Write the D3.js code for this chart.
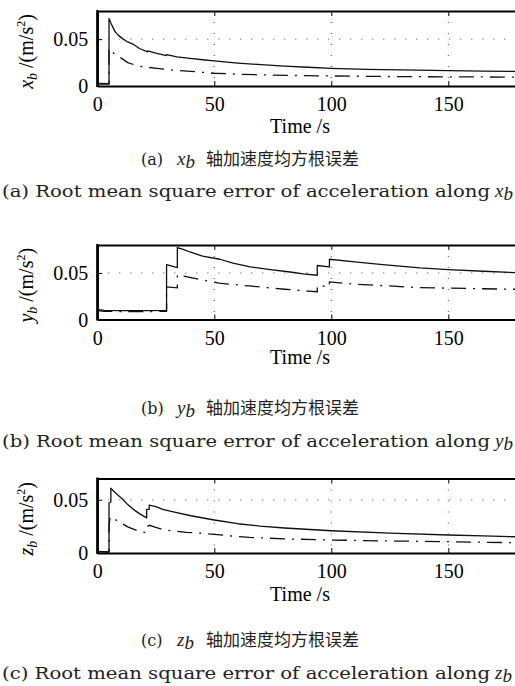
<!DOCTYPE html>
<html>
<head>
<meta charset="utf-8">
<script src="https://cdn.jsdelivr.net/npm/d3@7/dist/d3.min.js"></script>
<style>
  body { margin: 0; background: #fff; }
  svg { display: block; }
  .tick text { font-family: "Liberation Serif", serif; font-size: 20px; fill: #000; }
  .lbl { font-family: "Liberation Serif", serif; font-size: 20px; fill: #000; }
  .cap { font-family: "DejaVu Serif", serif; font-size: 16px; fill: #222; }
  .capm { font-family: "Liberation Serif", serif; font-size: 19px; font-style: italic; fill: #222; }
  .capzh { font-family: "Noto Sans CJK SC", sans-serif; font-size: 17px; fill: #222; }
</style>
</head>
<body>
<svg id="chart" width="515" height="686"></svg>
<script>
// shared axis values
const timeDomain = [0, 180]
const timeTicks = [0, 50, 100, 150]
const valueTicks = [0, 0.05]

// panel a: x_b axis  [time s, rmse m/s^2]
const xbSolid = [[0,0.0028],[5.0,0.0025],[5.0,0.072],[6,0.066],[7.6,0.058],[9,0.054],[11.1,0.050],[13,0.047],[15.4,0.0445],[18,0.040],[21.5,0.0365],[21.6,0.0375],[25,0.035],[29.5,0.0325],[29.6,0.0335],[34,0.031],[39.6,0.0295],[45,0.028],[50,0.0267],[60,0.0245],[70,0.0228],[80,0.0213],[90,0.020],[100,0.0189],[115,0.0178],[130,0.0171],[150,0.0163],[165,0.0159],[180,0.0155]]
const xbDashDot = [[0,0.002],[5.0,0.002],[5.0,0.040],[6,0.037],[8,0.033],[10.4,0.0295],[13,0.025],[16,0.0225],[19,0.0206],[22,0.0198],[25.5,0.0189],[30,0.0175],[35,0.0165],[40,0.0157],[45,0.0146],[50,0.0136],[60,0.0126],[70,0.0119],[85,0.0112],[100,0.0107],[120,0.0102],[140,0.0099],[160,0.0097],[180,0.0095]]

// panel b: y_b axis
const ybSolid = [[0,0.0115],[1,0.0105],[3,0.0098],[10,0.0095],[20,0.0095],[29.6,0.0097],[29.6,0.059],[34.2,0.0558],[34.2,0.0773],[37,0.075],[39.6,0.0725],[45,0.068],[52.4,0.0647],[58,0.0605],[65.3,0.0565],[74,0.0535],[82.4,0.051],[88,0.049],[94,0.0475],[94,0.058],[99.2,0.0565],[99.2,0.0647],[110,0.0618],[122,0.059],[137.9,0.0555],[150,0.0536],[165,0.0518],[180,0.0502]]
const ybDashDot = [[0,0.0095],[3,0.0088],[10,0.0085],[20,0.0085],[29.6,0.0087],[29.6,0.035],[34.2,0.034],[34.2,0.048],[40,0.045],[48,0.041],[52,0.039],[65,0.036],[80,0.0325],[90,0.0305],[94,0.0298],[94,0.036],[99.2,0.0355],[99.2,0.0403],[110.8,0.0378],[125,0.036],[137,0.0343],[150,0.0337],[165,0.033],[180,0.0324]]

// panel c: z_b axis
const zbSolid = [[0,0.0015],[5.0,0.001],[5.0,0.047],[5.8,0.048],[5.8,0.061],[7,0.058],[9,0.054],[11.1,0.050],[13,0.0455],[15.4,0.041],[18,0.037],[21.1,0.033],[21.1,0.041],[22.2,0.041],[22.2,0.045],[25,0.0435],[28,0.041],[32.5,0.0387],[40,0.035],[50,0.031],[60,0.0275],[69.5,0.0253],[80,0.0235],[100,0.0209],[125,0.0186],[150,0.0169],[165,0.016],[180,0.0152]]
const zbDashDot = [[0,0.001],[5.0,0.0008],[5.0,0.026],[5.5,0.034],[6,0.033],[8,0.031],[9.7,0.0288],[13,0.0245],[17,0.021],[20.8,0.019],[21,0.021],[21.5,0.025],[22.2,0.026],[25,0.024],[28.7,0.0216],[32.5,0.0206],[38,0.0194],[45,0.0185],[50,0.0175],[60,0.0155],[65,0.0147],[80,0.0133],[100,0.0122],[125,0.0113],[150,0.0106],[165,0.0101],[180,0.0097]]

const panels = [
	{ id: "a", v: "x", solid: xbSolid, dashdot: xbDashDot, ymax: 0.08, top: 11, bottom: 86,
	  timeY: 133, zhY: 165, enY: 197 },
	{ id: "b", v: "y", solid: ybSolid, dashdot: ybDashDot, ymax: 0.08, top: 245, bottom: 319.5,
	  timeY: 364, zhY: 414, enY: 447 },
	{ id: "c", v: "z", solid: zbSolid, dashdot: zbDashDot, ymax: 0.07, top: 478.5, bottom: 553,
	  timeY: 601, zhY: 646, enY: 679 }
]

const svg = d3.select("#chart")
const left = 97.3, right = 518.5

const x = d3.scaleLinear().domain(timeDomain).range([left, right])

panels.forEach(function(p, i) {
	const y = d3.scaleLinear().domain([0, p.ymax]).range([p.bottom, p.top])
	const g = svg.append("g").attr("class", "panel-" + p.id)

	g.append("clipPath").attr("id", "clip" + i)
		.append("rect").attr("x", left).attr("y", p.top).attr("width", right - left).attr("height", p.bottom - p.top)

	// dotted grid
	g.selectAll("line.vgrid").data(timeTicks.slice(1)).join("line")
		.attr("class", "vgrid")
		.attr("x1", d => x(d)).attr("x2", d => x(d))
		.attr("y1", p.top).attr("y2", p.bottom)
		.attr("stroke", "#444").attr("stroke-width", 1).attr("stroke-dasharray", "1,10")
	g.selectAll("line.hgrid").data(valueTicks.slice(1)).join("line")
		.attr("class", "hgrid")
		.attr("x1", left).attr("x2", right)
		.attr("y1", d => y(d)).attr("y2", d => y(d))
		.attr("stroke", "#444").attr("stroke-width", 1).attr("stroke-dasharray", "1,10")

	const line = d3.line().x(d => x(d[0])).y(d => y(d[1]))

	g.append("path").datum(p.dashdot)
		.attr("d", line).attr("fill", "none").attr("stroke", "#111")
		.attr("stroke-width", 1.3).attr("stroke-dasharray", "15,7,2,7")
		.attr("clip-path", "url(#clip" + i + ")")
	g.append("path").datum(p.solid)
		.attr("d", line).attr("fill", "none").attr("stroke", "#111")
		.attr("stroke-width", 1.3).attr("stroke-linejoin", "round")
		.attr("clip-path", "url(#clip" + i + ")")

	// axes, MATLAB style ticks pointing inward
	const bottomAxis = g.append("g").attr("transform", "translate(0," + p.bottom + ")")
		.call(d3.axisBottom(x).tickValues(timeTicks).tickSizeInner(-5).tickSizeOuter(0).tickFormat(d3.format("d")))
	bottomAxis.selectAll(".tick text").attr("y", 25).attr("dy", 0)
	g.append("g").attr("transform", "translate(0," + p.top + ")")
		.call(d3.axisTop(x).tickValues(timeTicks).tickSizeInner(-5).tickSizeOuter(0).tickFormat(""))
	const leftAxis = g.append("g").attr("transform", "translate(" + left + ",0)")
		.call(d3.axisLeft(y).tickValues(valueTicks).tickSizeInner(-5).tickSizeOuter(0).tickFormat(d => d === 0 ? "0" : d3.format(".2f")(d)))
	leftAxis.selectAll(".tick text").attr("x", -9).attr("dy", "0.34em")

	g.selectAll(".domain").attr("stroke", "#000").attr("stroke-width", 2.2)
	g.selectAll(".tick line").attr("stroke", "#000").attr("stroke-width", 1)
	// left axis line over the whole height
	g.append("line").attr("x1", left).attr("x2", left).attr("y1", p.top - 1).attr("y2", p.bottom + 1)
		.attr("stroke", "#000").attr("stroke-width", 2.2)

	// y label
	const yl = g.append("text").attr("class", "lbl")
		.attr("transform", "translate(33," + ((p.top + p.bottom) / 2 + 3) + ") rotate(-90)")
		.attr("text-anchor", "middle")
	yl.append("tspan").attr("font-style", "italic").text(p.v)
	yl.append("tspan").attr("font-style", "italic").attr("font-size", "14px").attr("dy", 4).text("b")
	yl.append("tspan").attr("dy", -4).text(" /(m/s")
	yl.append("tspan").attr("font-size", "12px").attr("dy", -8).text("2")
	yl.append("tspan").attr("dy", 8).text(")")

	// x label
	g.append("text").attr("class", "lbl").attr("x", 300).attr("y", p.timeY)
		.attr("text-anchor", "middle").text("Time /s")

	// captions
	const zh = g.append("text").attr("y", p.zhY)
	zh.append("tspan").attr("class", "cap").attr("x", 141).text("(" + p.id + ")")
	zh.append("tspan").attr("class", "capm").attr("x", 177).text(p.v)
	zh.append("tspan").attr("class", "capm").attr("font-size", "13px").attr("dy", 3).text("b")
	zh.append("tspan").attr("class", "capzh").attr("x", 206).attr("dy", -3).text("轴加速度均方根误差")

	g.append("text").attr("class", "cap").attr("x", 2).attr("y", p.enY)
		.attr("textLength", 488).attr("lengthAdjust", "spacingAndGlyphs")
		.text("(" + p.id + ") Root mean square error of acceleration along")
	const en2 = g.append("text").attr("x", 495).attr("y", p.enY)
	en2.append("tspan").attr("class", "capm").text(p.v)
	en2.append("tspan").attr("class", "capm").attr("font-size", "12px").attr("dy", 3).text("b")
})
</script>
</body>
</html>
